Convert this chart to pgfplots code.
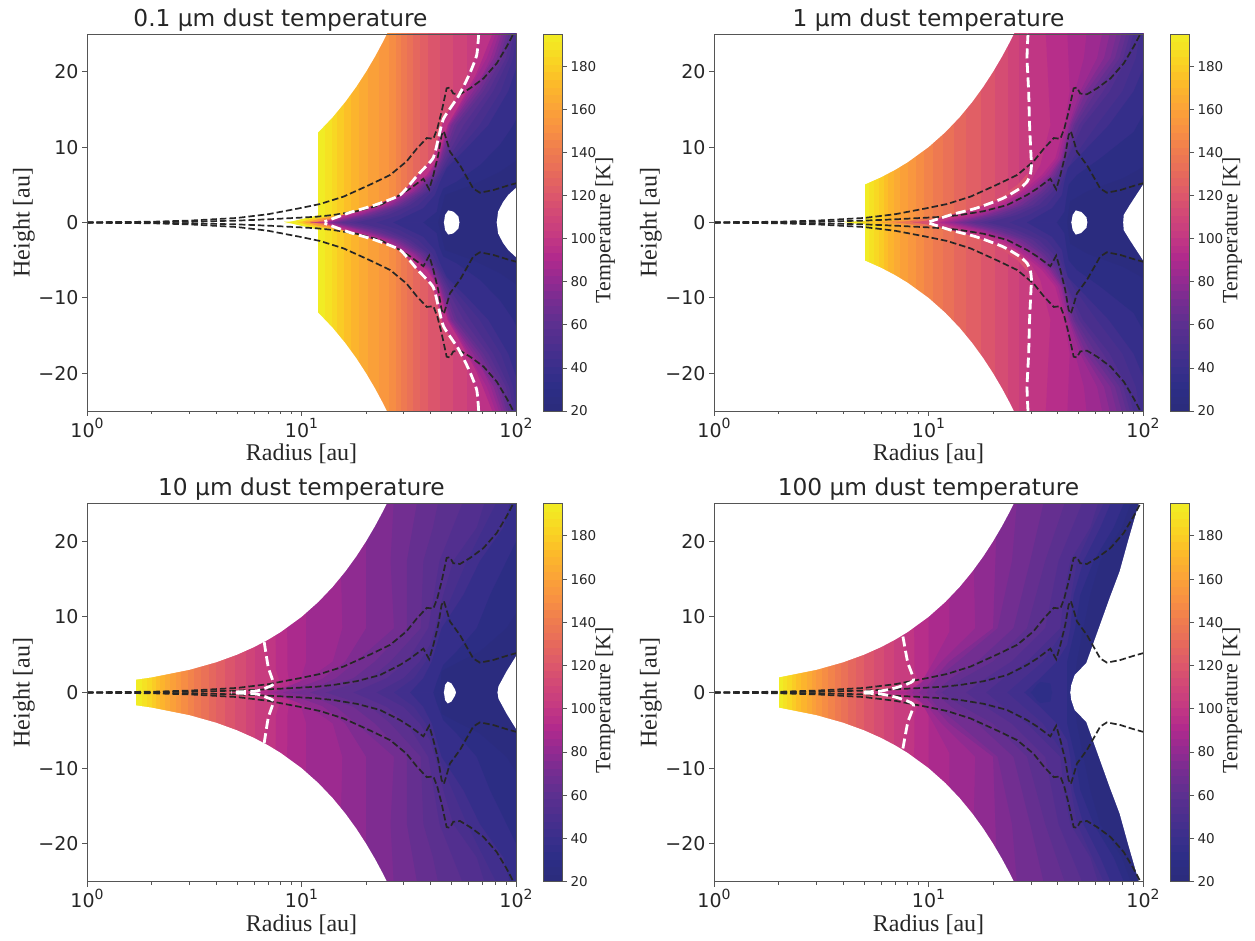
\documentclass[border=0pt]{standalone}
\usepackage{pgfplots}
\usepackage{pgfplotstable}
\usepackage{fontspec}
\pgfplotsset{compat=1.18}
\setmainfont{DejaVu Sans}
\newfontfamily\labfont{Liberation Serif}
\definecolor{spine}{HTML}{555555}
\pgfplotsset{
  colormap={tempcm}{
    rgb255(20pt)=(43,44,125) rgb255(30pt)=(45,46,135) rgb255(40pt)=(60,47,140)
    rgb255(50pt)=(78,47,142) rgb255(60pt)=(95,48,144) rgb255(70pt)=(120,45,145)
    rgb255(80pt)=(150,42,145) rgb255(90pt)=(178,42,140) rgb255(100pt)=(197,58,130)
    rgb255(110pt)=(210,72,118) rgb255(120pt)=(222,90,105) rgb255(130pt)=(232,108,90)
    rgb255(140pt)=(240,126,78) rgb255(150pt)=(248,146,65) rgb255(160pt)=(251,165,55)
    rgb255(170pt)=(252,185,42) rgb255(180pt)=(250,210,35) rgb255(190pt)=(243,232,35)
    rgb255(195pt)=(240,240,36)}}
\newcommand\dustbegin[5]{%
\begin{axis}[
    scale only axis, width=429pt, height=#1pt, at={(#2pt,#3pt)}, anchor=south west,
    xmode=log, log basis x=10,
    xmin=1, xmax=100, ymin=-25, ymax=25,
    xtick={1,10,100},
    xticklabels={10\raisebox{0.45em}{\fontsize{14}{14}\selectfont 0},10\raisebox{0.45em}{\fontsize{14}{14}\selectfont 1},10\raisebox{0.45em}{\fontsize{14}{14}\selectfont 2}},
    minor xtick={2,3,4,5,6,7,8,9,20,30,40,50,60,70,80,90},
    ytick={-20,-10,0,10,20},
    yticklabels={−20,−10,0,10,20},
    tick align=outside, tick pos=left,
    major tick length=5pt, minor tick length=3pt,
    tick style={color=spine,line width=0.9pt},
    minor tick style={color=spine,line width=0.7pt},
    axis line style={color=spine,line width=0.9pt},
    axis on top=true,
    tick label style={font=\fontsize{19}{19}\selectfont,text=black!85},
    xticklabel style={yshift=1pt},
    xlabel={\labfont Radius [au]},
    ylabel={\labfont Height [au]},
    xlabel style={at={(axis description cs:0.5,0)},anchor=center,yshift=-43pt,font=\fontsize{24}{24}\selectfont,text=black!85},
    ylabel style={at={(axis description cs:0,0.5)},anchor=center,yshift=63pt,font=\fontsize{24}{24}\selectfont,text=black!85},
    title={#4},
    title style={font=\fontsize{23.3}{24}\selectfont,text=black!85,yshift=-6.5pt,xshift=#5pt},
]}
\pgfplotstableread{
x y
0 20
1 20
0 23.5
1 23.5
0 27
1 27
0 30.5
1 30.5
0 34
1 34
0 37.5
1 37.5
0 41
1 41
0 44.5
1 44.5
0 48
1 48
0 51.5
1 51.5
0 55
1 55
0 58.5
1 58.5
0 62
1 62
0 65.5
1 65.5
0 69
1 69
0 72.5
1 72.5
0 76
1 76
0 79.5
1 79.5
0 83
1 83
0 86.5
1 86.5
0 90
1 90
0 93.5
1 93.5
0 97
1 97
0 100.5
1 100.5
0 104
1 104
0 107.5
1 107.5
0 111
1 111
0 114.5
1 114.5
0 118
1 118
0 121.5
1 121.5
0 125
1 125
0 128.5
1 128.5
0 132
1 132
0 135.5
1 135.5
0 139
1 139
0 142.5
1 142.5
0 146
1 146
0 149.5
1 149.5
0 153
1 153
0 156.5
1 156.5
0 160
1 160
0 163.5
1 163.5
0 167
1 167
0 170.5
1 170.5
0 174
1 174
0 177.5
1 177.5
0 181
1 181
0 184.5
1 184.5
0 188
1 188
0 191.5
1 191.5
0 195
1 195
}\cbtable
\newcommand\cbar[3]{%
\begin{axis}[
    scale only axis, width=19pt, height=#3pt, at={(#1pt,#2pt)}, anchor=south west,
    xmin=0, xmax=1, ymin=20, ymax=195,
    xtick=\empty,
    ytick={20,40,60,80,100,120,140,160,180},
    ytick pos=right, yticklabel pos=right,
    tick align=outside,
    major tick length=5pt,
    tick style={color=spine,line width=0.8pt},
    axis line style={color=spine,line width=0.9pt},
    axis on top=true,
    /pgf/number format/assume math mode=true,
    yticklabel style={font=\fontsize{13.5}{14}\selectfont,text=black!85},
    ylabel={\labfont Temperature [K]},
    ylabel style={at={(axis description cs:1,0.5)},anchor=center,yshift=-43pt,xshift=-8pt,font=\fontsize{21.8}{22}\selectfont,text=black!85},
]
\addplot[surf,shader=flat corner,mesh/cols=2,mesh/ordering=x varies,point meta=y,point meta min=20,point meta max=195,colormap name=tempcm,forget plot] table[x=x,y=y] {\cbtable};
\end{axis}}
\newcommand\st[2]{\addplot[color of colormap={#1 of tempcm},fill=.,draw=none,mark=none,forget plot] coordinates {(#2,-26)(110,-26)(110,26)(#2,26)};}
\newcommand\lv[2]{%
  \addplot[color of colormap={#1 of tempcm},fill=.,draw=none,mark=none,forget plot] coordinates {#2 (110,-0.15)(110,26)};
  \addplot[color of colormap={#1 of tempcm},fill=.,draw=none,mark=none,forget plot,y filter/.expression={-y}] coordinates {#2 (110,-0.15)(110,26)};}
\newcommand\tail[2]{%
  \addplot[color of colormap={#1 of tempcm},fill=.,draw=none,mark=none,forget plot] coordinates {#2};
  \addplot[color of colormap={#1 of tempcm},fill=.,draw=none,mark=none,forget plot,y filter/.expression={-y}] coordinates {#2};}
\newcommand\wm[1]{%
  \addplot[fill=white,draw=none,mark=none,forget plot] coordinates {#1};
  \addplot[fill=white,draw=none,mark=none,forget plot,y filter/.expression={-y}] coordinates {#1};}
\newcommand\wedgemask{\wm{(0.9,0.9)(1,1)(1.5,1.5)(2,2)(3,3)(4,4)(5,5)(6,6)(7,7)(8,8)(10,10)(12,12)(14,14)(16,16)(18,18)(20,20)(22,22)(24,24)(26,26)(0.9,26)}}
\pgfplotstableread{
r z
1 0.03
2 0.1
3 0.25
5 0.6
7 1.1
9.84 1.9
12.2 2.45
15.7 3.43
20.8 5.0
25.9 6.3
30.9 8.1
34.5 9.8
38.4 11.2
41.2 11.1
43.0 12.5
45.0 14.7
47.5 17.8
49.2 17.9
51.0 17.1
54.8 17.0
61.1 17.8
70.5 19.1
81.3 21.1
90.4 23.3
97.2 25
}\uppercurve
\pgfplotstableread{
r z
1 0.01
2 0.05
3 0.1
5 0.25
7 0.42
9.84 0.64
11.8 0.77
14.1 1.0
18.1 1.5
23.2 2.3
28.8 3.65
32.1 4.5
37 5.8
39.4 4.4
41.2 6.3
43.4 8.95
45 11.6
46.1 12.1
47.5 10.9
49.2 9.4
54.8 7.6
63.2 4.5
67.9 3.95
78.4 4.3
90.4 4.85
100 5.2
}\innercurve
\newcommand\blackdash{%
  \addplot[color=black!85,line width=1.7pt,dash pattern=on 6.5pt off 3pt,mark=none,forget plot] table[x=r,y=z] {\uppercurve};
  \addplot[color=black!85,line width=1.7pt,dash pattern=on 6.5pt off 3pt,mark=none,forget plot] table[x=r,y=z] {\innercurve};
  \addplot[color=black!85,line width=1.7pt,dash pattern=on 6.5pt off 3pt,mark=none,forget plot] table[x=r,y expr=-\thisrow{z}] {\uppercurve};
  \addplot[color=black!85,line width=1.7pt,dash pattern=on 6.5pt off 3pt,mark=none,forget plot] table[x=r,y expr=-\thisrow{z}] {\innercurve};}
\newcommand\wdash[1]{%
  \addplot[color=white,line width=2.8pt,dash pattern=on 10pt off 4.5pt,mark=none,smooth,tension=0.35,forget plot] coordinates {#1};
  \addplot[color=white,line width=2.8pt,dash pattern=on 10pt off 4.5pt,mark=none,smooth,tension=0.35,forget plot,y filter/.expression={-y}] coordinates {#1};}
\begin{document}
\begin{tikzpicture}[x=1pt,y=1pt]
\path[use as bounding box] (0,0) rectangle (1255,940);
% ---------- panel 1
\dustbegin{377}{87}{529}{0.1 µm dust temperature}{-21}
\st{986}{12}\st{957}{12.9}\st{929}{13.8}\st{900}{14.7}\st{871}{15.8}\st{843}{17}\st{814}{18.5}\st{786}{20.5}\st{757}{23}\st{729}{25.5}\st{700}{27.5}\st{671}{29}\st{643}{31}\st{614}{33}\st{586}{35.5}\st{557}{39}\st{529}{44}\st{500}{51}\st{471}{59}
\tail{986}{(8.3,-0.1)(10,0.45)(12.2,1)(12.2,-0.1)}
\tail{886}{(9.5,-0.1)(11,0.45)(13,0.8)(15.8,1.25)(15.8,-0.1)}
\tail{771}{(10.2,-0.1)(12,0.45)(15,0.95)(19,1.7)(23,2.7)(23,-0.1)}
\tail{657}{(11,-0.1)(13,0.4)(16,0.95)(21,1.9)(27,3.3)(31,4.9)(31,-0.1)}
\tail{543}{(12,-0.1)(14,0.35)(17,0.95)(22,1.95)(28,3.3)(33,5)(38,7)(44,12.3)(44,-0.1)}
\lv{429}{(67,26)(65.6,22.2)(60.5,19.6)(54,16.8)(46,13.8)(43.5,11.2)(41,8.5)(34.8,6.3)(28.8,3.65)(21.9,2.3)(16.7,1.3)(12.8,0.1)(11,0)}
\lv{386}{(80,26)(70,21.8)(65,19.6)(58.9,17.4)(53.2,15.1)(47.9,12.9)(45.5,10.7)(43.4,8.5)(38.4,6.3)(30.9,4.1)(24.1,2.3)(16.8,1)(12.9,0)}
\lv{357}{(82.8,26)(73.1,21.8)(60,17.4)(48.3,12.9)(43.6,8.5)(39,6.3)(31.8,4.1)(24.7,2.3)(17.6,1)(13.1,0)}
\lv{329}{(85.7,26)(76.2,21.8)(70,19.6)(61.1,17.4)(54.8,15.1)(48.7,12.9)(43.9,8.5)(39.7,6.3)(32.7,4.1)(25.4,2.3)(18.4,1)(13.3,0)}
\lv{300}{(88,26)(78.7,21.8)(63.3,17.4)(49.4,12.9)(44.3,8.5)(40.3,6.3)(33.6,4.1)(26.3,2.3)(19.1,1)(13.7,0)}
\lv{271}{(90.4,26)(81.3,21.8)(65.6,17.4)(50.1,12.9)(44.7,8.5)(40.9,6.3)(34.5,4.1)(27.3,2.3)(19.8,1)(14.1,0)}
\lv{243}{(92.4,26)(84,21.8)(68,17.4)(51.6,12.9)(45.4,8.5)(41.6,6.3)(35.6,4.1)(28.3,2.3)(20.9,1)(14.7,0)}
\lv{214}{(94.4,26)(86.7,21.8)(70.5,17.4)(53.2,12.9)(46.1,8.5)(42.4,6.3)(36.8,4.1)(29.3,2.3)(22,1)(15.4,0)}
\lv{186}{(96.6,26)(89.9,21.8)(74.4,17.4)(57,12.9)(47.2,8.5)(43.1,6.3)(37.9,4.1)(30.7,2.3)(23.7,1)(16.7,0)}
\lv{157}{(98.9,26)(93.1,21.8)(78.4,17.4)(61.1,12.9)(48.3,8.5)(43.9,6.3)(39,4.1)(32.1,2.3)(25.4,1)(18.1,0)}
\lv{129}{(101.5,26)(97,21.8)(85,17.4)(67.7,12.9)(50.1,8.5)(44.7,6.3)(40.6,4.1)(35,2.3)(28.7,1)(22.4,0)}
\lv{86}{(104,23.5)(100,20.4)(92.1,17.4)(74.3,12.9)(56.8,9.4)(47.5,7.2)(44.3,5.4)(41.9,3.65)(37,1.9)(26.8,0)}
\lv{40}{(104,14.7)(97.2,12.9)(84.2,10.3)(67.9,7.6)(52.8,5.4)(45.8,4.5)(43.9,3.2)(42.7,1.4)(37,0)}
\lv{11}{(104,8.5)(84.2,6.7)(63.2,5)(46.7,3.65)(43.4,0)}
\wedgemask
\wm{(46.1,-0.1)(46.7,1.0)(48.3,1.6)(51,1.45)(53.9,0.8)(54.5,-0.1)}
\wm{(81.3,-0.1)(82.5,1.45)(87,2.7)(92,3.65)(100,4.6)(104,4.6)(104,-0.1)}
\blackdash
\wdash{(67,25)(65.6,22.2)(60.5,19.6)(54,16.8)(46,13.8)(43.5,11.2)(41,8.5)(34.8,6.3)(28.8,3.65)(21.9,2.3)(16.7,1.3)(12.8,0.1)}
\end{axis}
\cbar{543}{529}{377}
% ---------- panel 2
\dustbegin{377}{714}{529}{1 µm dust temperature}{0}
\st{986}{5.05}\st{957}{5.3}\st{929}{5.6}\st{900}{5.9}\st{871}{6.2}\st{843}{6.5}\st{814}{6.9}\st{786}{7.4}\st{757}{8}\st{729}{8.7}\st{700}{9.5}\st{671}{10.5}\st{643}{11.7}\st{614}{13.2}\st{586}{15}\st{557}{17.5}\st{529}{20.5}\st{500}{23.5}\st{471}{26.5}
\tail{986}{(4,-0.1)(4.6,0.15)(5.1,0.25)(5.1,-0.1)}
\tail{886}{(4.8,-0.1)(5.8,0.25)(6.2,0.3)(6.2,-0.1)}
\tail{771}{(5.8,-0.1)(7,0.2)(8,0.35)(8.7,0.5)(8.7,-0.1)}
\tail{657}{(6.8,-0.1)(8,0.2)(10,0.6)(13.2,1.3)(13.2,-0.1)}
\tail{543}{(8.2,-0.1)(10,0.3)(13,1.05)(17,2)(22,3.6)(26,5)(29,6.5)(29,-0.1)}
\lv{443}{(29.1,26)(28.8,21.8)(29.3,17.4)(29.6,12.9)(30.1,8.5)(30.2,7.6)(29.9,6.5)(28.8,5.4)(26.6,4.5)(22.2,3.2)(16.7,1.9)(13,1.1)(10.1,0)}
\lv{414}{(35.1,26)(37,12.9)(33.2,7.6)(29.9,5.4)(25.9,3.65)(19.4,1.9)(11,0)}
\lv{386}{(44.3,26)(45.5,17.4)(43,12.9)(39,8.5)(33.8,6.3)(27.3,4.1)(22,2.3)(15.7,1)(11.4,0)}
\lv{357}{(55,26)(53,21.8)(48.2,17.4)(44,12.9)(40.1,8.5)(35,6.3)(28.6,4.1)(22.8,2.3)(16.7,1)(12,0)}
\lv{329}{(65.6,26)(61.1,21.8)(51,17.4)(45,12.9)(41.2,8.5)(36.3,6.3)(29.9,4.1)(23.7,2.3)(17.7,1)(12.6,0)}
\lv{300}{(71.3,26)(65.8,21.8)(52.8,17.4)(45.6,12.9)(41.8,8.5)(37.1,6.3)(31,4.1)(24.8,2.3)(18.5,1)(13.3,0)}
\lv{271}{(77,26)(70.5,21.8)(54.5,17.4)(46.3,12.9)(42.4,8.5)(38,6.3)(32.1,4.1)(25.9,2.3)(19.4,1)(14.1,0)}
\lv{243}{(81.3,26)(74.1,21.8)(57.5,17.4)(47.3,12.9)(42.9,8.5)(39,6.3)(33.4,4.1)(27.3,2.3)(20.7,1)(15,0)}
\lv{214}{(85.7,26)(77.8,21.8)(60.6,17.4)(48.3,12.9)(43.4,8.5)(40,6.3)(34.7,4.1)(28.8,2.3)(22,1)(16,0)}
\lv{186}{(88.9,26)(81,21.8)(65.3,17.4)(50.4,12.9)(43.9,8.5)(41,6.3)(36.3,4.1)(30.7,2.3)(23.9,1)(17.5,0)}
\lv{157}{(92.1,26)(84.2,21.8)(70,17.4)(52.5,12.9)(44.4,8.5)(41.9,6.3)(38,4.1)(32.7,2.3)(25.9,1)(19,0)}
\lv{129}{(98,26)(92.6,21.8)(80.2,17.4)(60.8,12.9)(47.2,8.5)(43.2,6.3)(40.1,4.1)(35.6,2.3)(29.4,1)(23.9,0)}
\lv{86}{(104,22)(100,20.4)(90.4,17.4)(69.2,12.9)(52.8,9.4)(44.6,7.2)(43,5.4)(41.9,3.65)(37.7,1.9)(28.8,0)}
\lv{40}{(102,14.7)(90.4,12)(63.2,8.5)(49.2,6.3)(45,5)(43.9,3.2)(43,1.4)(39.7,0)}
\lv{11}{(104,7.6)(81.3,5.9)(54.8,4.1)(45.8,2.8)(44.3,0)}
\wedgemask
\wm{(46.3,-0.1)(47,1.0)(48.6,1.6)(51.5,1.4)(54.5,0.7)(55,-0.1)}
\wm{(80.8,-0.1)(81.3,1.0)(86.7,2.3)(93.1,3.65)(100,5)(104,5)(104,-0.1)}
\blackdash
\wdash{(29.1,25)(28.8,21.8)(29.3,17.4)(29.6,12.9)(30.1,8.5)(30.2,7.6)(29.9,6.5)(28.8,5.4)(26.6,4.5)(22.2,3.2)(16.7,1.9)(13,1.1)(10.1,0.1)}
\end{axis}
\cbar{1170}{529}{377}
% ---------- panel 3
\dustbegin{378}{87}{58.5}{10 µm dust temperature}{0}
\st{986}{1.7}\st{957}{1.8}\st{929}{1.9}\st{900}{2.0}\st{871}{2.1}\st{843}{2.2}\st{814}{2.3}\st{786}{2.45}\st{757}{2.6}\st{729}{2.75}\st{700}{2.95}\st{671}{3.15}\st{643}{3.4}\st{614}{3.7}\st{586}{4.0}\st{557}{4.4}\st{529}{4.9}\st{500}{5.5}\st{471}{6.1}
\lv{443}{(6.7,26)(6.7,6.7)(7.0,3.35)(7.4,1.15)(6.8,0.6)(6.2,0.2)(4.7,0)}
\lv{414}{(7.5,26)(7.6,3)(8,1)(7,0.4)(6,0)}
\lv{386}{(8.5,26)(8.6,3)(8.8,1)(7.6,0.4)(6.6,0)}
\lv{357}{(10.5,26)(10.5,4)(9.8,1.3)(8,0.4)(7,0)}
\lv{329}{(15,26)(15.5,8.5)(14,4.1)(11,2)(9,1)(7.5,0)}
\lv{300}{(20,26)(20,8.5)(16,4.1)(12.5,1.8)(10,0.8)(8.2,0)}
\lv{271}{(27,26)(26,17.4)(27,8.5)(18,4.1)(14.5,1.9)(11.5,0.6)(9,0)}
\lv{243}{(35,26)(31,17.4)(31,8.5)(22,4.1)(17.5,1.9)(11,0)}
\lv{214}{(44,26)(41,21.8)(37,17.4)(36,8.5)(26,4.1)(21,1.9)(13,0)}
\lv{186}{(58,26)(44,17.4)(39,8.5)(31,4.1)(25,1.9)(17.5,0)}
\lv{157}{(73,26)(65.6,21.8)(51,17.4)(45.8,12.9)(41.9,8.5)(39.7,6.3)(35.6,4.1)(29.9,1.9)(22.4,0)}
\lv{129}{(84,26)(59,17.4)(43.4,8.5)(38,4.1)(33.5,1.9)(27,0)}
\lv{86}{(95.6,26)(87.3,21.8)(67.9,17.4)(56.8,12.9)(45,8.5)(42.7,6.3)(40.5,4.1)(37,1.9)(32.1,0)}
\lv{40}{(104,20.9)(90.4,17.4)(75.7,12.9)(65.6,8.5)(52.8,5.4)(45.8,3.65)(42.7,1.4)(41.2,0)}
\lv{11}{(104,11.2)(90.4,8.5)(67.9,5.4)(54.8,4.1)(45,2.8)(44.3,0)}
\wedgemask
\wm{(46.1,-0.1)(46.7,1.0)(48,1.45)(50,1.2)(52,0.4)(52.5,-0.1)}
\wm{(82,-0.1)(82.8,0.8)(90.4,2.8)(100,4.8)(104,4.8)(104,-0.1)}
\blackdash
\wdash{(6.7,6.7)(7.0,3.35)(7.4,1.15)(6.8,0.6)(6.2,0.2)(4.7,0.05)}
\end{axis}
\cbar{543}{58.5}{378}
% ---------- panel 4
\dustbegin{378}{714}{58.5}{100 µm dust temperature}{0}
\st{986}{2.0}\st{957}{2.1}\st{929}{2.2}\st{900}{2.3}\st{871}{2.4}\st{843}{2.55}\st{814}{2.7}\st{786}{2.85}\st{757}{3.0}\st{729}{3.2}\st{700}{3.4}\st{671}{3.65}\st{643}{3.9}\st{614}{4.2}\st{586}{4.6}\st{557}{5.0}\st{529}{5.6}\st{500}{6.2}\st{471}{6.9}
\lv{443}{(7.6,26)(7.6,7.4)(8,4)(8.5,1.6)(7.2,0.7)(6,0.2)(4.8,0)}
\lv{414}{(8.5,26)(8.6,3)(9,1.3)(7.6,0.4)(6.4,0)}
\lv{386}{(10,26)(10,3)(9.6,1)(8,0.3)(7,0)}
\lv{357}{(12.5,26)(12.5,8)(10.5,4)(9.3,1.4)(8.3,0.4)(7.8,0)}
\lv{329}{(16,26)(16.5,8.5)(11.5,4.1)(10,2)(9,1)(8.4,0)}
\lv{300}{(21,26)(20,8.5)(12.5,4.1)(10.5,1.8)(9.8,0.8)(9,0)}
\lv{271}{(26,26)(24.5,17.4)(21,8.5)(13.7,4.1)(11,1.9)(9.8,0)}
\lv{243}{(35,26)(29.8,17.4)(24.9,8.5)(16.9,4.1)(12.8,1.9)(10.7,0)}
\lv{214}{(44.3,26)(35,17.4)(28.8,8.5)(20,4.1)(14.5,1.9)(11.5,0)}
\lv{186}{(53.7,26)(40.4,17.4)(35,8.5)(24.4,4.1)(18.5,1.9)(15,0)}
\lv{157}{(63.2,26)(56.8,21.8)(45.8,17.4)(42.7,12.9)(41.2,8.5)(28.8,4.1)(22.4,1.9)(18.6,0)}
\lv{129}{(68,26)(49.3,17.4)(43.5,8.5)(34.2,4.1)(27.8,1.9)(23.3,0)}
\lv{86}{(73,26)(63.2,21.8)(52.8,17.4)(47.5,12.9)(45.8,8.5)(44.3,6.3)(39.7,4.1)(33.2,1.9)(28,0)}
\tail{60}{(29.9,-0.1)(32,1)(33.2,1.4)(37,1.2)(37.7,-0.1)}
\lv{40}{(84.2,26)(73,21.8)(58.9,17.4)(51,12.9)(48.3,8.5)(44.3,4.1)(44.3,0)}
\lv{11}{(90.4,26)(79.8,21.8)(63.2,17.4)(56.8,12.9)(52.8,8.5)(49.2,4.1)(47.5,0)}
\wedgemask
\wm{(45.8,-0.1)(46.3,1.0)(48,2.3)(54.4,3.9)(60.6,7.6)(69.9,12.5)(77.8,16)(85.1,20)(95.7,25)(97,26)(110,26)(110,-0.1)}
\blackdash
\wdash{(7.6,7.4)(8,4)(8.5,1.6)(7.2,0.7)(6,0.2)(4.8,0.05)}
\end{axis}
\cbar{1170}{58.5}{378}
\end{tikzpicture}
\end{document}
